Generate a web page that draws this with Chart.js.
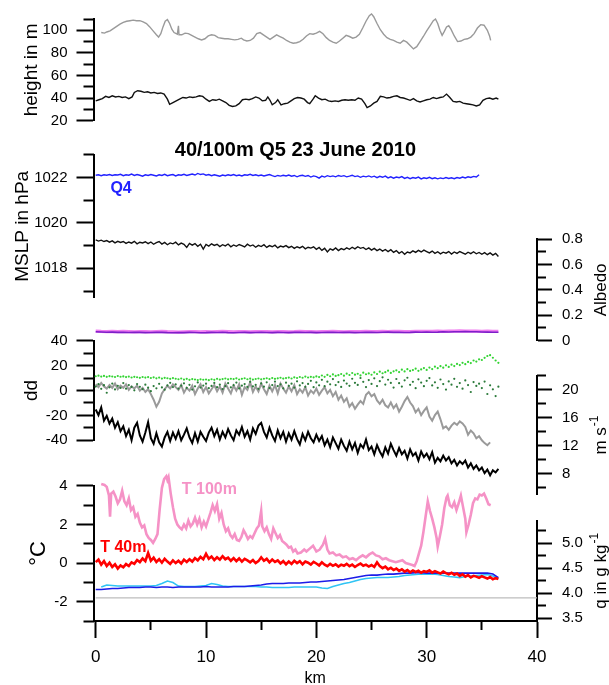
<!DOCTYPE html>
<html>
<head>
<meta charset="utf-8">
<script src="https://cdn.jsdelivr.net/npm/chart.js@4.4.1/dist/chart.umd.min.js"></script>
<style>
  html, body { margin: 0; padding: 0; background: #fff; }
  #grafica { display: block; }
</style>
</head>
<body>
<canvas id="grafica" width="609" height="685"></canvas>
<script>
// ------------- Datos -------------

const tituloGrafica = '40/100m Q5 23 June 2010';

// rejillas de distancia (km)
const km025 = [
  0,0.25,0.5,0.75,1,1.25,1.5,1.75,2,2.25,
  2.5,2.75,3,3.25,3.5,3.75,4,4.25,4.5,4.75,
  5,5.25,5.5,5.75,6,6.25,6.5,6.75,7,7.25,
  7.5,7.75,8,8.25,8.5,8.75,9,9.25,9.5,9.75,
  10,10.25,10.5,10.75,11,11.25,11.5,11.75,12,12.25,
  12.5,12.75,13,13.25,13.5,13.75,14,14.25,14.5,14.75,
  15,15.25,15.5,15.75,16,16.25,16.5,16.75,17,17.25,
  17.5,17.75,18,18.25,18.5,18.75,19,19.25,19.5,19.75,
  20,20.25,20.5,20.75,21,21.25,21.5,21.75,22,22.25,
  22.5,22.75,23,23.25,23.5,23.75,24,24.25,24.5,24.75,
  25,25.25,25.5,25.75,26,26.25,26.5,26.75,27,27.25,
  27.5,27.75,28,28.25,28.5,28.75,29,29.25,29.5,29.75,
  30,30.25,30.5,30.75,31,31.25,31.5,31.75,32,32.25,
  32.5,32.75,33,33.25,33.5,33.75,34,34.25,34.5,34.75,
  35,35.25,35.5,35.75,36,36.25,36.5
];
const km05 = [
  0,0.5,1,1.5,2,2.5,3,3.5,4,4.5,
  5,5.5,6,6.5,7,7.5,8,8.5,9,9.5,
  10,10.5,11,11.5,12,12.5,13,13.5,14,14.5,
  15,15.5,16,16.5,17,17.5,18,18.5,19,19.5,
  20,20.5,21,21.5,22,22.5,23,23.5,24,24.5,
  25,25.5,26,26.5,27,27.5,28,28.5,29,29.5,
  30,30.5,31,31.5,32,32.5,33,33.5,34,34.5,
  35,35.5,36,36.5
];

// Panel 1: altura de vuelo (m) -> [km, valor]
const altura100 = [
  [0.5,98],[0.8,97.5],[1.0,98.5],[1.3,99.5],[1.6,101.5],[1.9,103.5],[2.2,105.5],[2.5,107],[2.8,108],[3.1,108.5],
  [3.4,109],[3.7,108.5],[4.0,108.5],[4.3,107.5],[4.6,106],[4.9,103],[5.2,99.5],[5.5,96],[5.7,94],[5.9,97],
  [6.1,103],[6.3,108],[6.5,109.5],[6.7,106],[6.9,101],[7.1,98],[7.4,96.5],[7.5,104],[7.55,96],[7.8,96],
  [8.1,97.5],[8.4,97],[8.7,95.5],[9.0,94],[9.3,92.5],[9.6,91.5],[9.9,92.5],[10.2,95],[10.5,96],[10.8,95.5],
  [11.1,93.5],[11.4,93],[11.7,92.5],[12.0,92.5],[12.3,92],[12.6,91.5],[12.9,92],[13.2,93],[13.4,91.5],[13.7,90.5],
  [14.0,91],[14.3,93],[14.6,97],[14.9,98],[15.2,96],[15.5,94],[15.8,92],[16.1,94],[16.4,96],[16.7,94.5],
  [17.0,93],[17.3,91],[17.6,89.5],[17.9,88.5],[18.2,89],[18.5,90],[18.8,92],[19.1,95],[19.4,97],[19.7,96.5],
  [20.0,97.5],[20.3,99],[20.6,97],[20.9,93.5],[21.2,91],[21.5,89.5],[21.8,88.5],[22.1,90.5],[22.4,93],[22.7,95.5],
  [23.0,94.5],[23.3,93],[23.6,94],[23.9,96.5],[24.2,102],[24.5,108],[24.8,113],[25.0,114.5],[25.2,112],[25.5,106],
  [25.8,100.5],[26.1,96.5],[26.4,93.5],[26.7,92],[27.0,91],[27.3,89.5],[27.6,88.5],[27.9,91],[28.2,89.5],[28.5,86.5],
  [28.8,83.5],[29.1,85.5],[29.4,90],[29.7,94.5],[30.0,99.5],[30.3,104],[30.6,108.5],[30.8,110],[31.0,106],[31.2,100],
  [31.4,95.5],[31.6,99],[31.8,103],[32.0,104],[32.2,101],[32.5,95],[32.8,90],[33.1,90.5],[33.4,92],[33.7,92.5],
  [34.0,94],[34.3,97],[34.6,102],[34.9,105],[35.2,104.5],[35.5,100],[35.7,95],[35.8,91]
];
const altura40 = [
  [0,37.5],[0.3,38.5],[0.6,39.5],[0.9,41.5],[1.2,40.5],[1.5,42],[1.8,41],[2.1,41.5],[2.4,40.5],[2.7,41],
  [3.0,39.5],[3.3,41],[3.5,45],[3.8,46.5],[4.1,46],[4.4,45],[4.7,45.5],[5.0,44.5],[5.3,45],[5.6,44],
  [5.9,44.5],[6.2,43.5],[6.5,39],[6.7,34.5],[7.0,36],[7.3,37.5],[7.6,39],[7.9,40.5],[8.2,40],[8.5,41],
  [8.8,40.5],[9.1,41],[9.4,42],[9.7,41.5],[10.0,39],[10.3,37],[10.6,38.5],[10.9,38],[11.2,39],[11.5,37.5],
  [11.8,36],[12.1,33.5],[12.4,32.5],[12.7,33],[13.0,35],[13.3,38.5],[13.6,39],[13.9,38.5],[14.2,39.5],[14.5,41],
  [14.8,40],[15.1,37.5],[15.4,38],[15.6,41],[15.8,38],[16.0,34],[16.3,36],[16.5,38.5],[16.8,34],[17.1,35],
  [17.4,35.5],[17.7,37.5],[18.0,39.5],[18.3,40.5],[18.6,40],[18.9,39],[19.2,36],[19.4,35],[19.7,39],[19.9,42],
  [20.2,40],[20.5,38.5],[20.8,39],[21.1,37.5],[21.4,37],[21.7,37.5],[22.0,37],[22.3,38],[22.6,38.5],[22.9,38],
  [23.2,38.5],[23.5,38],[23.8,40],[24.1,39],[24.4,35],[24.6,31.5],[24.9,33],[25.2,35.5],[25.5,37],[25.8,41.5],
  [26.1,41],[26.4,40],[26.7,40.5],[27.0,41.5],[27.3,42],[27.6,40.5],[27.9,40],[28.2,39],[28.5,38],[28.8,39.5],
  [29.1,37.5],[29.4,36.5],[29.7,37.5],[30.0,38.5],[30.3,39],[30.6,40.5],[30.9,39.5],[31.2,40.5],[31.5,41],[31.8,43.5],
  [32.1,40.5],[32.4,37],[32.7,36.5],[33.0,37],[33.3,35.5],[33.6,35],[33.9,34.5],[34.2,34],[34.5,33],[34.8,34],
  [35.1,38],[35.4,39.5],[35.7,40],[36.0,39],[36.3,40],[36.5,39]
];

// Panel 2: MSLP (hPa) sobre km025
const mslpQ4 = [
  1022.10,1022.12,1022.08,1022.12,1022.10,1022.13,1022.09,1022.12,1022.11,1022.14,
  1022.08,1022.12,1022.10,1022.15,1022.09,1022.13,1022.10,1022.06,1022.12,1022.09,
  1022.13,1022.10,1022.07,1022.12,1022.09,1022.14,1022.08,1022.11,1022.13,1022.07,
  1022.12,1022.10,1022.14,1022.09,1022.12,1022.15,1022.11,1022.18,1022.13,1022.16,
  1022.10,1022.13,1022.08,1022.12,1022.09,1022.06,1022.11,1022.08,1022.12,1022.09,
  1022.13,1022.08,1022.11,1022.07,1022.12,1022.10,1022.14,1022.09,1022.12,1022.08,
  1022.11,1022.07,1022.10,1022.13,1022.08,1022.04,1022.09,1022.06,1022.10,1022.07,
  1022.11,1022.06,1022.09,1022.03,1022.08,1022.10,1022.05,1022.09,1022.02,1022.07,
  1022.04,1021.97,1022.06,1022.02,1022.08,1022.04,1022.07,1022.03,1022.09,1022.05,
  1022.08,1022.03,1022.06,1022.10,1022.04,1022.07,1022.01,1022.06,1022.03,1022.07,
  1022.02,1022.06,1021.99,1022.05,1022.01,1022.06,1021.98,1022.03,1021.97,1022.02,
  1021.99,1022.04,1021.96,1022.01,1021.95,1022.00,1021.97,1022.02,1021.94,1021.99,
  1021.96,1022.01,1021.95,1021.99,1021.94,1021.98,1021.95,1022.00,1021.96,1021.99,
  1021.95,1022.00,1021.97,1022.02,1021.98,1022.03,1022.00,1022.05,1022.02,1022.12
];
const mslpQ5 = [
  1019.25,1019.20,1019.24,1019.18,1019.22,1019.15,1019.21,1019.12,1019.19,1019.14,
  1019.18,1019.10,1019.16,1019.11,1019.19,1019.08,1019.15,1019.12,1019.17,1019.09,
  1019.16,1019.06,1019.13,1019.18,1019.07,1019.14,1019.04,1019.12,1019.08,1019.15,
  1019.03,1019.11,1019.06,1018.92,1019.10,1019.02,1019.09,1018.97,1019.06,1018.85,
  1019.05,1018.98,1019.08,1019.01,1019.06,1018.96,1019.04,1018.99,1019.07,1018.95,
  1019.03,1018.97,1019.05,1019.00,1018.94,1019.06,1018.98,1019.03,1018.93,1019.01,
  1018.96,1019.04,1018.92,1019.00,1018.95,1019.02,1018.90,1018.98,1018.94,1019.00,
  1018.91,1018.97,1018.88,1018.95,1018.90,1018.97,1018.86,1018.93,1018.89,1018.95,
  1018.84,1018.92,1018.79,1018.88,1018.72,1018.86,1018.80,1018.90,1018.78,1018.87,
  1018.82,1018.90,1018.84,1018.93,1018.86,1018.95,1018.88,1018.92,1018.83,1018.90,
  1018.80,1018.88,1018.78,1018.85,1018.76,1018.83,1018.74,1018.82,1018.70,1018.78,
  1018.66,1018.74,1018.62,1018.72,1018.68,1018.77,1018.70,1018.79,1018.72,1018.80,
  1018.74,1018.68,1018.76,1018.66,1018.73,1018.64,1018.71,1018.67,1018.74,1018.63,
  1018.72,1018.66,1018.74,1018.68,1018.62,1018.71,1018.65,1018.73,1018.64,1018.70,
  1018.62,1018.69,1018.60,1018.68,1018.58,1018.66,1018.52
];

// Panel 3: albedo sobre km05
const albedoMorado = [
  0.070,0.068,0.066,0.067,0.065,0.066,0.064,0.066,0.065,0.063,
  0.064,0.066,0.065,0.063,0.062,0.064,0.063,0.065,0.064,0.062,
  0.063,0.065,0.064,0.066,0.063,0.062,0.064,0.065,0.063,0.064,
  0.066,0.064,0.063,0.065,0.064,0.063,0.065,0.066,0.064,0.065,
  0.063,0.064,0.066,0.065,0.064,0.066,0.065,0.063,0.064,0.066,
  0.065,0.064,0.066,0.067,0.065,0.066,0.064,0.065,0.067,0.066,
  0.068,0.066,0.067,0.069,0.068,0.070,0.069,0.071,0.070,0.069,
  0.068,0.067,0.066,0.066
];
const albedoMagenta = [
  0.074,0.072,0.071,0.073,0.070,0.072,0.071,0.069,0.071,0.070,
  0.068,0.070,0.072,0.070,0.069,0.067,0.069,0.071,0.070,0.068,
  0.070,0.069,0.071,0.072,0.070,0.068,0.070,0.071,0.069,0.070,
  0.071,0.070,0.068,0.070,0.071,0.069,0.070,0.072,0.071,0.070,
  0.069,0.071,0.070,0.072,0.071,0.069,0.070,0.071,0.070,0.072,
  0.071,0.070,0.072,0.071,0.073,0.072,0.070,0.071,0.073,0.072,
  0.073,0.072,0.074,0.073,0.075,0.074,0.076,0.075,0.074,0.075,
  0.073,0.074,0.072,0.073
];

// Panel 4: direccion dd (puntos) y viento en m/s, sobre km025
const ddClaro = [
  11.5,12.0,11.2,11.8,11.0,11.6,11.3,10.9,11.7,11.1,
  11.4,10.8,11.2,10.5,11.0,10.7,10.2,10.9,10.4,10.8,
  10.1,10.6,9.8,10.4,9.6,10.2,9.9,9.4,10.0,9.5,
  9.1,9.7,8.8,9.4,8.6,9.2,8.9,8.4,9.0,8.7,
  8.9,8.3,9.1,8.6,9.4,8.8,9.2,9.7,9.0,9.5,
  9.2,9.8,8.9,9.4,9.9,9.1,9.6,8.8,9.3,9.7,
  9.0,9.5,9.9,9.2,10.1,9.4,9.8,10.3,9.6,10.0,
  10.4,9.7,10.6,10.1,10.9,10.3,11.2,10.5,11.0,10.6,
  11.4,10.8,12.1,11.0,12.6,11.5,13.0,11.8,12.4,13.3,
  12.0,13.6,12.5,14.1,12.8,13.5,12.2,14.4,13.1,13.8,
  12.7,14.6,13.3,15.2,13.9,14.8,16.0,14.2,15.5,16.3,
  14.9,16.8,15.4,17.2,15.8,16.5,17.6,15.9,17.0,18.1,
  16.6,18.5,17.3,19.2,18.0,19.6,18.4,20.3,19.0,20.8,
  19.7,21.4,20.5,22.3,21.2,23.0,22.1,24.2,23.3,25.1,
  24.6,26.3,27.8,28.5,26.4,24.2,22.3
];
const ddOscuro = [
  3.2,5.1,1.4,4.3,-1.8,2.6,5.6,0.9,3.8,2.1,
  6.0,1.5,4.4,2.9,0.2,5.2,3.0,1.1,4.7,2.3,
  -0.5,3.6,1.8,5.4,2.5,0.7,4.1,6.2,2.8,4.9,
  1.6,3.9,5.8,2.2,4.6,0.8,3.4,6.5,2.4,4.0,
  5.5,1.9,3.7,6.1,2.7,4.8,1.2,3.5,5.9,2.6,
  4.3,6.4,1.7,3.9,5.2,2.9,7.0,3.3,4.6,1.4,
  5.7,3.1,6.6,2.0,4.4,7.2,3.6,5.0,1.8,6.3,
  3.8,5.5,2.4,7.4,4.1,6.0,3.0,5.3,7.8,2.7,
  6.5,4.2,8.6,3.5,7.1,5.0,9.2,4.4,6.8,2.9,
  8.0,5.6,3.8,9.5,6.2,4.5,10.1,7.0,2.8,8.4,
  5.3,9.8,3.6,7.5,10.6,4.8,8.7,6.1,2.4,9.3,
  5.9,3.2,8.2,10.3,4.6,7.0,1.9,9.0,6.4,3.5,
  7.8,10.0,4.1,6.6,2.2,8.9,5.2,0.8,7.3,4.7,
  9.4,3.0,6.0,1.5,8.1,4.4,-1.2,6.8,3.7,5.5,
  2.0,7.2,-2.8,4.2,1.0,-4.5,3.1
];
const vientoGris = [
  20.8,20.4,21.0,20.5,20.2,20.7,20.3,20.9,20.1,20.6,
  20.3,20.8,20.0,20.5,20.2,20.6,19.9,20.3,19.7,20.1,
  19.4,18.6,17.6,18.3,19.5,20.1,20.6,20.2,20.8,20.4,
  20.0,20.7,19.6,20.3,19.9,20.6,19.4,20.2,20.8,19.7,
  20.4,19.5,20.1,20.7,19.8,20.5,19.6,20.9,20.2,19.5,
  20.6,19.9,20.8,19.3,20.4,20.0,21.1,19.7,20.5,19.8,
  20.9,20.1,19.4,20.6,19.8,20.7,19.5,20.9,20.2,19.6,
  20.5,19.8,20.7,19.4,20.1,19.6,20.4,19.2,19.9,19.5,
  20.2,19.3,19.9,20.4,19.5,20.0,19.1,19.7,18.6,19.2,
  18.3,18.8,17.6,18.1,17.3,17.9,18.4,18.0,19.3,19.7,
  19.1,19.4,18.5,18.0,18.6,17.8,17.5,18.2,17.4,17.9,
  16.9,17.6,18.4,19.0,18.2,17.7,16.8,17.3,16.4,17.0,
  17.5,16.2,15.6,16.4,16.9,15.8,14.5,14.8,14.3,14.9,
  15.3,15.0,15.5,15.2,14.7,13.6,14.2,13.8,13.1,13.4,
  12.8,12.4,12.1,12.5
];
const vientoNegro = [
  17.2,16.4,17.5,15.6,16.3,15.2,15.9,14.6,15.4,14.1,
  14.8,13.4,14.3,12.8,14.6,15.3,13.5,12.6,13.9,15.4,
  13.1,12.3,13.8,12.5,11.9,13.2,14.0,12.7,13.9,13.0,
  14.1,12.8,13.6,14.5,13.2,12.4,13.8,12.6,14.0,13.3,
  12.7,13.9,14.6,13.4,14.3,12.9,14.0,13.2,14.4,13.5,
  12.8,14.2,13.6,14.7,13.3,14.1,12.9,14.5,13.7,14.9,
  15.3,14.0,13.2,14.6,13.5,12.7,14.2,13.1,14.0,12.6,
  13.8,12.9,14.1,13.0,12.2,13.7,12.8,14.0,13.1,12.5,
  13.6,12.7,13.4,12.1,12.9,11.8,13.2,12.4,11.6,12.9,
  12.0,11.3,12.6,11.5,12.4,11.0,12.2,11.7,12.9,11.4,
  11.9,10.8,12.1,11.2,10.5,11.8,10.9,12.3,11.4,10.6,
  11.7,10.8,11.3,10.2,11.5,10.6,11.0,9.9,11.2,10.4,
  10.9,10.1,11.1,9.6,10.3,9.8,10.6,9.9,10.4,9.5,
  10.0,9.2,9.8,9.4,9.9,8.9,9.5,8.7,9.2,8.5,
  8.9,8.1,8.6,7.8,8.5,8.2,8.7
];

// Panel 5: temperatura (°C) y humedad especifica (g/kg)
const temp100 = [
  [0.5,4.1],[0.8,4.05],[1.0,3.95],[1.2,3.5],[1.3,2.4],[1.4,3.6],[1.6,3.7],[1.8,3.45],[2.0,3.1],[2.2,3.3],
  [2.4,3.75],[2.6,3.2],[2.8,3.0],[3.0,3.35],[3.2,2.75],[3.4,2.9],[3.6,2.4],[3.8,2.55],[4.0,2.1],[4.2,1.85],
  [4.4,1.95],[4.6,1.5],[4.8,1.3],[5.0,1.2],[5.2,1.05],[5.4,1.25],[5.6,1.5],[5.8,2.8],[6.0,3.9],[6.2,4.35],
  [6.4,4.5],[6.5,4.3],[6.6,4.45],[6.8,3.6],[7.0,2.9],[7.2,2.3],[7.4,2.0],[7.6,1.85],[7.8,1.75],[8.0,2.0],
  [8.2,1.8],[8.4,2.2],[8.6,1.9],[8.8,2.05],[9.0,2.35],[9.2,2.0],[9.4,2.3],[9.6,1.85],[9.8,2.15],[10.0,1.9],
  [10.2,2.25],[10.4,2.6],[10.6,3.0],[10.8,2.7],[11.0,3.05],[11.2,2.3],[11.4,2.6],[11.6,2.0],[11.8,1.65],[12.0,1.8],
  [12.2,1.45],[12.4,1.3],[12.6,1.5],[12.8,1.2],[13.0,1.15],[13.2,1.35],[13.4,1.7],[13.6,1.5],[13.8,1.25],[14.0,1.4],
  [14.2,1.3],[14.4,1.55],[14.6,1.8],[14.8,1.95],[15.0,2.7],[15.1,1.9],[15.3,1.65],[15.5,1.85],[15.7,1.5],[15.9,1.25],
  [16.1,1.8],[16.3,1.55],[16.5,1.3],[16.7,1.45],[16.9,1.15],[17.1,1.05],[17.3,0.95],[17.5,0.8],[17.7,0.85],[17.9,0.6],
  [18.1,0.7],[18.3,0.5],[18.6,0.55],[18.9,0.7],[19.1,0.6],[19.4,0.75],[19.7,0.9],[20.0,0.6],[20.3,0.7],[20.6,0.95],
  [20.8,1.25],[21.0,0.7],[21.2,0.5],[21.5,0.55],[21.8,0.4],[22.1,0.45],[22.4,0.3],[22.7,0.35],[23.0,0.2],[23.3,0.25],
  [23.6,0.15],[23.9,0.3],[24.2,0.4],[24.5,0.3],[24.8,0.45],[25.1,0.55],[25.4,0.4],[25.7,0.35],[26.0,0.2],[26.3,0.25],
  [26.6,0.15],[26.9,0.1],[27.2,0.05],[27.5,0.1],[27.8,0.15],[28.1,0.0],[28.4,-0.05],[28.7,-0.1],[28.9,-0.15],[29.1,0.1],
  [29.3,0.5],[29.5,0.9],[29.7,1.6],[29.9,2.4],[30.1,3.2],[30.3,2.7],[30.5,2.3],[30.7,1.85],[30.9,1.3],[31.0,0.85],
  [31.2,1.4],[31.4,2.0],[31.6,2.85],[31.8,3.4],[31.9,3.5],[32.1,3.0],[32.3,2.9],[32.5,3.15],[32.7,2.75],[32.9,3.1],
  [33.1,3.5],[33.3,2.9],[33.5,2.3],[33.6,1.6],[33.8,2.0],[34.0,2.5],[34.2,3.1],[34.4,3.35],[34.6,3.3],[34.8,3.55],
  [35.0,3.5],[35.2,3.6],[35.4,3.35],[35.6,3.05],[35.8,3.0]
];
const temp40 = [
  0.05,0.18,-0.08,0.10,-0.15,0.02,-0.20,-0.06,-0.28,-0.12,
  -0.22,-0.05,-0.15,0.04,-0.04,0.16,0.05,0.24,0.10,0.52,
  0.12,0.28,0.06,0.20,0.02,0.22,0.08,-0.04,0.14,0.00,
  0.12,-0.02,0.18,0.06,0.20,0.08,0.26,0.14,0.32,0.20,
  0.48,0.22,0.34,0.16,0.30,0.18,0.36,0.20,0.28,0.12,
  0.26,0.10,0.24,0.08,0.22,0.14,0.04,0.16,0.00,0.10,
  0.30,0.12,0.22,0.04,0.18,0.06,0.14,-0.02,0.10,-0.06,
  0.08,-0.04,0.12,0.00,0.10,-0.06,0.08,0.02,-0.08,0.06,
  -0.02,-0.12,0.04,-0.08,-0.16,-0.04,-0.14,-0.06,-0.18,-0.08,
  -0.14,-0.04,-0.16,-0.08,-0.20,-0.10,-0.02,-0.14,-0.08,-0.18,
  -0.10,-0.20,0.04,-0.16,-0.26,-0.18,-0.32,-0.24,-0.36,-0.28,
  -0.40,-0.32,-0.44,-0.36,-0.48,-0.38,-0.46,-0.40,-0.50,-0.42,
  -0.46,-0.38,-0.50,-0.42,-0.48,-0.54,-0.44,-0.52,-0.58,-0.50,
  -0.60,-0.54,-0.66,-0.58,-0.70,-0.62,-0.74,-0.66,-0.70,-0.76,
  -0.68,-0.74,-0.80,-0.72,-0.84,-0.78,-0.82
];
const qAzul = [
  4.07,4.07,4.08,4.09,4.09,4.10,4.11,4.11,4.11,4.12,
  4.12,4.11,4.12,4.12,4.11,4.12,4.12,4.12,4.12,4.12,
  4.13,4.12,4.12,4.12,4.12,4.13,4.13,4.13,4.14,4.15,
  4.16,4.18,4.19,4.19,4.19,4.20,4.20,4.20,4.21,4.22,
  4.22,4.23,4.24,4.25,4.26,4.27,4.29,4.31,4.33,4.35,
  4.36,4.36,4.37,4.38,4.38,4.39,4.40,4.40,4.41,4.41,
  4.40,4.40,4.40,4.40,4.40,4.40,4.40,4.40,4.40,4.40,
  4.40,4.40,4.38,4.31
];
const qCian = [
  null,4.12,4.16,4.15,4.14,4.14,4.14,4.14,4.14,4.14,
  4.14,4.15,4.19,4.24,4.21,4.14,4.13,4.13,4.13,4.14,
  4.15,4.19,4.17,4.14,4.13,4.13,4.13,4.13,4.13,4.13,
  4.12,4.12,4.11,4.11,4.11,4.11,4.12,4.12,4.12,4.12,
  4.12,4.10,4.09,4.13,4.16,4.19,4.21,4.24,4.27,4.29,
  4.30,4.31,4.31,4.31,4.32,4.33,4.35,4.36,4.37,4.38,
  4.38,4.38,4.37,4.35,4.33,4.32,4.31,4.33,4.34,4.35,
  4.36,4.37,4.34,4.29
];
// linea de referencia (punto de congelacion del agua de mar)
const kmHielo = [0, 40];
const tHielo = [-1.8, -1.8];

// ticks de los ejes
const ticksKm = [0, 10, 20, 30, 40];
const menoresKm = [5, 15, 25, 35];
const ticksAltura = [20, 40, 60, 80, 100];
const menoresAltura = [30, 50, 70, 90, 110];
const ticksMslp = [1018, 1020, 1022];
const menoresMslp = [1017, 1019, 1021, 1023];
const ticksDd = [-40, -20, 0, 20, 40];
const menoresDd = [-30, -10, 10, 30];
const ticksTemp = [-2, 0, 2, 4];
const menoresTemp = [-3, -1, 1, 3];
const ticksAlbedo = [0, 0.2, 0.4, 0.6, 0.8];
const menoresAlbedo = [0.1, 0.3, 0.5, 0.7];
const ticksViento = [8, 12, 16, 20];
const menoresViento = [6, 10, 14, 18, 22];
const ticksQ = [3.5, 4.0, 4.5, 5.0];
const menoresQ = [3.75, 4.25, 4.75, 5.25];

// ------------- Estilos -------------
const negro = '#000000';
const fuente = "'Liberation Sans', Arial, sans-serif";
const anchoIzq = 93.5;
const anchoDer = 72;

// ------------- Funciones auxiliares -------------
function unir(kms, valores) {
  const pts = [];
  valores.forEach((v, i) => {
    if (v !== null && kms[i] !== undefined) pts.push({ x: kms[i], y: v });
  });
  return pts;
}
function pares(lista) {
  return lista.map(p => ({ x: p[0], y: p[1] }));
}
function fijarTicks(valores) {
  return eje => { eje.ticks = valores.map(v => ({ value: v })); };
}

// eje principal de un panel (con etiquetas y ticks largos)
function ejePanel(o) {
  const izq = o.pos === 'left';
  return {
    type: 'linear', axis: 'y', position: o.pos,
    stack: o.pos + 'P', stackWeight: o.alto, weight: o.peso,
    min: o.min, max: o.max, bounds: 'data',
    afterBuildTicks: fijarTicks(o.ticks),
    afterFit: e => { e.width = izq ? anchoIzq : anchoDer; },
    border: { display: true, color: negro, width: 2 },
    grid: { drawOnChartArea: false, tickLength: izq ? 17 : 15, tickWidth: 2, tickColor: negro },
    ticks: {
      color: negro, font: { family: fuente, size: 15 }, padding: izq ? 9 : 10,
      autoSkip: false, callback: o.formato || (v => String(v))
    },
    title: o.titulo ? {
      display: true, text: o.titulo, color: negro,
      font: { family: fuente, size: o.tamTitulo || 19 },
      padding: { top: o.sepTitulo, bottom: 0 }
    } : { display: false }
  };
}
// eje gemelo solo con los ticks cortos
function ejeMenor(o) {
  const izq = o.pos === 'left';
  return {
    type: 'linear', axis: 'y', position: o.pos,
    stack: o.pos + 'M', stackWeight: o.alto, weight: o.peso,
    min: o.min, max: o.max, bounds: 'data',
    afterBuildTicks: fijarTicks(o.menores),
    afterFit: e => { e.width = 0; },
    border: { display: false },
    grid: { drawOnChartArea: false, tickLength: izq ? 10 : 9, tickWidth: 2, tickColor: negro },
    ticks: { display: false }
  };
}
function hueco(pos, grupo, peso, alto) {
  return { type: 'linear', axis: 'y', position: pos, stack: pos + grupo, stackWeight: alto, weight: peso, display: false };
}

// ------------- Paneles -------------
// izquierda, de arriba a abajo (peso mayor = arriba)
const panelesIzq = [
  { id: 'yAltura', alto: 102.3, min: 20, max: 110, ticks: ticksAltura, menores: menoresAltura, titulo: 'height in m', sepTitulo: 20 },
  { hueco: true, alto: 34.4 },
  { id: 'yMslp', alto: 144, min: 1016.7, max: 1023, ticks: ticksMslp, menores: menoresMslp, titulo: 'MSLP in hPa', sepTitulo: 11 },
  { hueco: true, alto: 43.3 },
  { id: 'yDd', alto: 100, min: -40, max: 40, ticks: ticksDd, menores: menoresDd, titulo: 'dd', sepTitulo: 20 },
  { hueco: true, alto: 46 },
  { id: 'yTemp', alto: 136, min: -3, max: 4, ticks: ticksTemp, menores: menoresTemp, titulo: '°C', sepTitulo: 26, tamTitulo: 22 }
];
// derecha, de arriba a abajo (peso menor = arriba)
const panelesDer = [
  { hueco: true, alto: 221.7 },
  { id: 'yAlbedo', alto: 102, min: 0, max: 0.8, ticks: ticksAlbedo, menores: menoresAlbedo, formato: v => v === 0 ? '0' : v.toFixed(1) },
  { hueco: true, alto: 35.6 },
  { id: 'yViento', alto: 119, min: 5.1, max: 22, ticks: ticksViento, menores: menoresViento },
  { hueco: true, alto: 26.7 },
  { id: 'yQ', alto: 101, min: 3.44, max: 5.45, ticks: ticksQ, menores: menoresQ, formato: v => v.toFixed(1) }
];

const escalas = {
  x: {
    type: 'linear', position: 'bottom', weight: 2, min: -0.2, max: 40, bounds: 'data',
    afterBuildTicks: fijarTicks(ticksKm),
    afterFit: e => { e.height = 64; },
    border: { display: true, color: negro, width: 2 },
    grid: { drawOnChartArea: false, tickLength: 17, tickWidth: 2, tickColor: negro },
    ticks: { color: negro, font: { family: fuente, size: 17 }, padding: 9, autoSkip: false, maxRotation: 0 },
    title: { display: true, text: 'km', color: negro, font: { family: fuente, size: 16 }, padding: { top: 0, bottom: -3 } }
  },
  xMenor: {
    type: 'linear', position: 'bottom', weight: 1, min: -0.2, max: 40, bounds: 'data',
    afterBuildTicks: fijarTicks(menoresKm),
    afterFit: e => { e.height = 0; },
    border: { display: false },
    grid: { drawOnChartArea: false, tickLength: 9, tickWidth: 2, tickColor: negro },
    ticks: { display: false }
  }
};

panelesIzq.forEach((p, i) => {
  if (p.hueco) {
    escalas['hIzqP' + i] = hueco('left', 'P', 70 - i, p.alto);
    escalas['hIzqM' + i] = hueco('left', 'M', 50 - i, p.alto);
  } else {
    escalas[p.id] = ejePanel(Object.assign({ pos: 'left', peso: 70 - i }, p));
    escalas[p.id + 'Menor'] = ejeMenor(Object.assign({ pos: 'left', peso: 50 - i }, p));
  }
});
panelesDer.forEach((p, i) => {
  if (p.hueco) {
    escalas['hDerM' + i] = hueco('right', 'M', 1 + i, p.alto);
    escalas['hDerP' + i] = hueco('right', 'P', 11 + i, p.alto);
  } else {
    escalas[p.id + 'Menor'] = ejeMenor(Object.assign({ pos: 'right', peso: 1 + i }, p));
    escalas[p.id] = ejePanel(Object.assign({ pos: 'right', peso: 11 + i }, p));
  }
});

// ------------- Series -------------
function linea(datos, eje, color, ancho) {
  return {
    data: datos, yAxisID: eje, xAxisID: 'x', borderColor: color, borderWidth: ancho,
    pointRadius: 0, fill: false, tension: 0, clip: false
  };
}
function puntos(datos, eje, color) {
  return {
    data: datos, yAxisID: eje, xAxisID: 'x', showLine: false, backgroundColor: color,
    borderWidth: 0, pointRadius: 1.1, pointBorderWidth: 0, clip: false
  };
}

// el primer dataset queda encima
const series = [
  linea(pares(altura100), 'yAltura', '#9a9a9a', 1.4),
  linea(pares(altura40), 'yAltura', '#111111', 1.4),
  linea(unir(km025, mslpQ4), 'yMslp', '#2222ff', 1.4),
  linea(unir(km025, mslpQ5), 'yMslp', '#111111', 1.4),
  linea(unir(km05, albedoMorado), 'yAlbedo', '#7d1fc9', 1.6),
  linea(unir(km05, albedoMagenta), 'yAlbedo', '#f07df0', 3.2),
  puntos(unir(km025, ddClaro), 'yDd', '#33d433'),
  puntos(unir(km025, ddOscuro), 'yDd', '#2b7a3a'),
  linea(unir(km025, vientoNegro), 'yViento', '#000000', 2),
  linea(unir(km025, vientoGris), 'yViento', '#9a9a9a', 2),
  linea(unir(km025, temp40), 'yTemp', '#ff0000', 2.6),
  linea(unir(km05, qAzul), 'yQ', '#1c1ce8', 1.6),
  linea(unir(km05, qCian), 'yQ', '#30c4f4', 1.6),
  linea(pares(temp100), 'yTemp', '#f592c6', 2.6),
  linea(unir(kmHielo, tHielo), 'yTemp', '#bdbdbd', 1.3)
];

// ------------- Textos sobre la grafica -------------
function tituloDerecho(ctx, cx, cy, texto, sup) {
  ctx.save();
  ctx.translate(cx, cy);
  ctx.rotate(-Math.PI / 2);
  ctx.textAlign = 'left';
  ctx.textBaseline = 'middle';
  ctx.font = '17px ' + fuente;
  const w1 = ctx.measureText(texto).width;
  let w2 = 0;
  if (sup) {
    ctx.font = '12px ' + fuente;
    w2 = ctx.measureText(sup).width + 1;
  }
  const inicio = -(w1 + w2) / 2;
  ctx.font = '17px ' + fuente;
  ctx.fillText(texto, inicio, 0);
  if (sup) {
    ctx.font = '12px ' + fuente;
    ctx.fillText(sup, inicio + w1 + 1, -6);
  }
  ctx.restore();
}

const etiquetas = {
  id: 'etiquetas',
  afterDraw(chart) {
    const { ctx, scales } = chart;
    const x = scales.x;
    const centro = e => (e.top + e.bottom) / 2;
    ctx.save();
    ctx.textAlign = 'center';
    ctx.textBaseline = 'middle';

    ctx.fillStyle = negro;
    ctx.font = 'bold 20px ' + fuente;
    ctx.fillText(tituloGrafica, x.getPixelForValue(18.1), scales.yMslp.top - 4);

    ctx.fillStyle = '#2222ff';
    ctx.font = 'bold 16px ' + fuente;
    ctx.fillText('Q4', x.getPixelForValue(2.3), scales.yMslp.getPixelForValue(1021.5));

    ctx.fillStyle = '#f592c6';
    ctx.fillText('T 100m', x.getPixelForValue(10.3), scales.yTemp.getPixelForValue(3.8));

    ctx.fillStyle = '#ff0000';
    ctx.fillText('T 40m', x.getPixelForValue(2.5), scales.yTemp.getPixelForValue(0.78));

    ctx.fillStyle = negro;
    tituloDerecho(ctx, 601, centro(scales.yAlbedo), 'Albedo');
    tituloDerecho(ctx, 601, centro(scales.yViento), 'm s', '-1');
    tituloDerecho(ctx, 601, centro(scales.yQ), 'q in g kg', '-1');
    ctx.restore();
  }
};

Chart.defaults.font.family = fuente;

new Chart(document.getElementById('grafica'), {
  type: 'line',
  data: { datasets: series },
  options: {
    responsive: false,
    animation: false,
    devicePixelRatio: 1,
    layout: { padding: { top: 15, left: 0, right: 0, bottom: 0 } },
    plugins: { legend: { display: false }, tooltip: { enabled: false }, title: { display: false } },
    scales: escalas
  },
  plugins: [etiquetas]
});
</script>
</body>
</html>
